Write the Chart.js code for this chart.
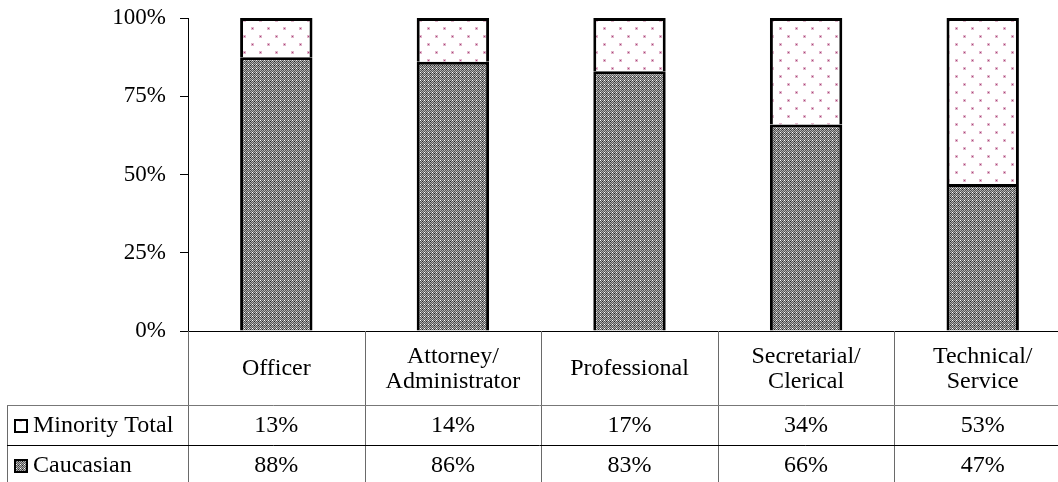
<!DOCTYPE html>
<html>
<head>
<meta charset="utf-8">
<script src="https://cdn.jsdelivr.net/npm/chart.js@4"></script>
<style>
  html, body { margin: 0; padding: 0; overflow: hidden; background: #fff; }
  #wrap { width: 1072px; height: 482px; position: relative; }
</style>
</head>
<body>
<div id="wrap"><canvas id="grafico"></canvas></div>
<script>
const categories = [
    ['Officer'],
    ['Attorney/', 'Administrator'],
    ['Professional'],
    ['Secretarial/', 'Clerical'],
    ['Technical/', 'Service']
];
const caucasian = [87.5, 86, 83, 66, 47];
const minority = [12.5, 14, 17, 34, 53];
const yTicks = [0, 25, 50, 75, 100];

const FONT = '"Liberation Serif", "Times New Roman", serif';

// patrones de relleno
function patronGris() {
    const c = document.createElement('canvas');
    c.width = 4; c.height = 4;
    const g = c.getContext('2d');
    for (let y = 0; y < 4; y++) {
        for (let x = 0; x < 4; x++) {
            g.fillStyle = (x + y) % 2 ? '#555555' : '#b0b0b0';
            g.fillRect(x, y, 1, 1);
        }
    }
    g.fillStyle = '#ffffff';
    g.fillRect(0, 0, 1, 1);
    g.fillStyle = '#222222';
    g.fillRect(2, 1, 1, 1);
    return g.createPattern(c, 'repeat');
}

function patronPuntos() {
    const c = document.createElement('canvas');
    c.width = 16; c.height = 16;
    const g = c.getContext('2d');
    g.fillStyle = '#ffffff';
    g.fillRect(0, 0, 16, 16);
    [[4, 4], [12, 12]].forEach(([x, y]) => {
        g.fillStyle = '#e2b8cc';
        g.fillRect(x - 1, y - 1, 3, 3);
        g.fillStyle = '#a8447a';
        g.fillRect(x, y, 1, 1);
    });
    return g.createPattern(c, 'repeat');
}

const tabla = {
    id: 'tabla',
    afterDraw(chart) {
        const c = chart.ctx;
        const area = chart.chartArea;
        const xs = chart.scales.x;
        const w = (area.right - area.left) / categories.length;
        const W = chart.width;
        const top = area.bottom;       // 331
        const r1 = top + 74;           // 405
        const r2 = r1 + 40;            // 445
        const bottom = chart.height;
        const tableLeft = 7;

        c.save();
        c.lineWidth = 1;

        // eje x
        c.strokeStyle = '#000';
        c.beginPath();
        c.moveTo(area.left, Math.round(top) + 0.5);
        c.lineTo(W, Math.round(top) + 0.5);
        c.stroke();

        // lineas verticales de columnas
        c.strokeStyle = '#6a6a6a';
        for (let i = 0; i < categories.length; i++) {
            const x = Math.round(xs.getPixelForValue(i) - w / 2) + 0.5;
            c.beginPath();
            c.moveTo(x, top);
            c.lineTo(x, bottom);
            c.stroke();
        }
        c.beginPath();
        c.moveTo(tableLeft + 0.5, r1);
        c.lineTo(tableLeft + 0.5, bottom);
        c.stroke();

        // lineas horizontales
        c.strokeStyle = '#777';
        c.beginPath();
        c.moveTo(tableLeft, r1 + 0.5);
        c.lineTo(W, r1 + 0.5);
        c.stroke();
        c.strokeStyle = '#000';
        c.beginPath();
        c.moveTo(tableLeft, r2 + 0.5);
        c.lineTo(W, r2 + 0.5);
        c.stroke();

        // textos
        c.fillStyle = '#000';
        c.font = '24px ' + FONT;
        c.textAlign = 'center';
        c.textBaseline = 'middle';
        const hMid = (top + r1) / 2 + 1;
        categories.forEach((lines, i) => {
            const x = xs.getPixelForValue(i);
            const lh = 25;
            lines.forEach((t, j) => {
                c.fillText(t, x, hMid + (j - (lines.length - 1) / 2) * lh);
            });
            c.fillText(Math.round(minority[i]) + '%', x, (r1 + r2) / 2 + 1);
            c.fillText(Math.round(caucasian[i]) + '%', x, r2 + 21);
        });

        // leyenda
        c.textAlign = 'left';
        const filas = [
            { label: 'Minority Total', y: (r1 + r2) / 2 + 1, fill: chart.data.datasets[1].backgroundColor },
            { label: 'Caucasian', y: r2 + 21, fill: chart.data.datasets[0].backgroundColor }
        ];
        filas.forEach(f => {
            const sx = 14, sy = Math.round(f.y) - 7;
            c.fillStyle = f.fill;
            c.fillRect(sx, sy, 14, 14);
            c.strokeStyle = '#000';
            c.lineWidth = 2;
            c.strokeRect(sx + 1, sy + 1, 12, 12);
            c.fillStyle = '#000';
            c.fillText(f.label, 33, f.y);
        });
        c.restore();
    }
};

const ctx = document.getElementById('grafico').getContext('2d');

const chart = new Chart(ctx, {
    type: 'bar',
    data: {
        labels: categories.map(l => l.join(' ')),
        datasets: [{
            label: 'Caucasian',
            data: caucasian,
            backgroundColor: patronGris(),
            borderColor: '#000',
            borderWidth: { top: 3, left: 3, right: 3, bottom: 0 },
            borderSkipped: false
        }, {
            label: 'Minority Total',
            data: minority,
            backgroundColor: patronPuntos(),
            borderColor: '#000',
            borderWidth: { top: 3, left: 3, right: 3, bottom: 0 },
            borderSkipped: false
        }]
    },
    options: {
        responsive: true,
        maintainAspectRatio: false,
        animation: false,
        layout: { padding: { top: 18, right: 1, bottom: 151, left: 0 } },
        plugins: {
            legend: { display: false },
            tooltip: { enabled: false }
        },
        datasets: {
            bar: { barPercentage: 0.41, categoryPercentage: 1 }
        },
        scales: {
            x: { stacked: true, display: false },
            y: {
                stacked: true,
                min: 0,
                max: 100,
                afterBuildTicks: s => { s.ticks = yTicks.map(v => ({ value: v })); },
                afterFit: s => {
                    s.width = 188;
                    s.paddingTop = 0;
                    s.paddingBottom = 0;
                },
                ticks: {
                    color: '#000',
                    padding: 14,
                    font: { family: FONT, size: 23 },
                    callback: v => v + '%'
                },
                grid: {
                    drawOnChartArea: false,
                    drawTicks: true,
                    tickLength: 8,
                    color: '#000'
                },
                border: { display: true, color: '#000', width: 1 }
            }
        }
    },
    plugins: [tabla]
});
</script>
</body>
</html>
